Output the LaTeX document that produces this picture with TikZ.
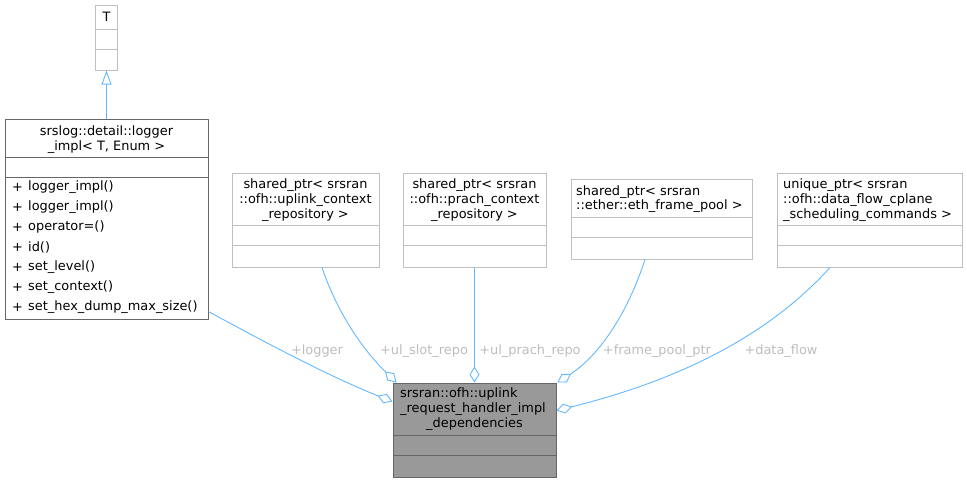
\documentclass[tikz,border=0pt]{standalone}
\usepackage{fontspec}
\setmainfont{DejaVu Sans}
\usetikzlibrary{arrows.meta,calc}
\definecolor{edgeblue}{HTML}{63B8FF}
\definecolor{lblgray}{HTML}{BDBDBD}
\definecolor{lightborder}{HTML}{BFBFBF}
\definecolor{darkborder}{HTML}{666666}
\definecolor{mainfill}{HTML}{999999}
\begin{document}
\begin{tikzpicture}[x=1pt,y=-1pt,
  font=\fontsize{12.9}{15}\selectfont,
  umlbox/.style={draw=lightborder, fill=white, line width=1pt, inner sep=0pt, rectangle},
  darkbox/.style={umlbox, draw=darkborder},
  txt/.style={inner sep=0pt, anchor=center, text=black},
  ltxt/.style={inner sep=0pt, anchor=west, text=black},
  assoc/.style={draw=edgeblue, line width=0.9pt, -{Diamond[open, length=16pt, width=10pt, line width=0.9pt]}},
  inherit/.style={draw=edgeblue, line width=0.9pt, -{Triangle[open, length=14pt, width=10pt, line width=0.9pt]}},
  elabel/.style={inner sep=0pt, text=lblgray, anchor=center}
]
\useasboundingbox (0,0) rectangle (967,483);

% template parameter T
\node[umlbox, minimum width=22pt, minimum height=65pt] (tbox) at (106.5,37.5) {};
\draw[lightborder, line width=1pt] (95.5,29) -- (117.5,29) (95.5,49) -- (117.5,49);
\node[txt] (tname) at (106.5,17) {T};

% logger implementation class
\node[darkbox, minimum width=203pt, minimum height=200pt] (logger) at (106.5,219) {};
\draw[darkborder, line width=1pt] (5,157) -- (208,157) (5,177) -- (208,177);
\node[txt] (lg1) at (106.5,132) {srslog::detail::logger};
\node[txt] (lg2) at (106.5,147) {\_impl< T, Enum >};
\foreach \i/\y/\m in {1/187/logger\_impl(), 2/207/logger\_impl(), 3/227/operator=(), 4/247/id(),
                      5/267/set\_level(), 6/287/set\_context(), 7/307/set\_hex\_dump\_max\_size()}{
  \node[ltxt] (lgp\i) at (12,\y) {+};
  \node[ltxt] (lgm\i) at (28,\y) {\m};
}

% uplink context repository pointer
\node[umlbox, minimum width=147pt, minimum height=94pt] (ulslot) at (305.5,220) {};
\draw[lightborder, line width=1pt] (232,225) -- (379,225) (232,245) -- (379,245);
\node[txt] (us1) at (305.5,185) {shared\_ptr< srsran};
\node[txt] (us2) at (305.5,200) {::ofh::uplink\_context};
\node[txt] (us3) at (305.5,215) {\_repository >};

% prach context repository pointer
\node[umlbox, minimum width=143pt, minimum height=94pt] (ulprach) at (474.5,220) {};
\draw[lightborder, line width=1pt] (403,225) -- (546,225) (403,245) -- (546,245);
\node[txt] (up1) at (474.5,185) {shared\_ptr< srsran};
\node[txt] (up2) at (474.5,200) {::ofh::prach\_context};
\node[txt] (up3) at (474.5,215) {\_repository >};

% ethernet frame pool pointer
\node[umlbox, minimum width=181pt, minimum height=80pt] (fpool) at (661.5,219) {};
\draw[lightborder, line width=1pt] (571,217) -- (752,217) (571,237) -- (752,237);
\node[ltxt] (fp1) at (576,192) {shared\_ptr< srsran};
\node[ltxt] (fp2) at (576,206) {::ether::eth\_frame\_pool >};

% data flow cplane scheduling commands pointer
\node[umlbox, minimum width=185pt, minimum height=94pt] (dflow) at (869.5,220) {};
\draw[lightborder, line width=1pt] (777,225) -- (962,225) (777,245) -- (962,245);
\node[ltxt] (df1) at (783,185) {unique\_ptr< srsran};
\node[ltxt] (df2) at (783,200) {::ofh::data\_flow\_cplane};
\node[ltxt] (df3) at (783,215) {\_scheduling\_commands >};

% dependencies structure
\node[darkbox, fill=mainfill, minimum width=163pt, minimum height=94pt] (deps) at (474.5,430) {};
\draw[darkborder, line width=1pt] (393,435) -- (556,435) (393,455) -- (556,455);
\node[ltxt] (dp1) at (400,394) {srsran::ofh::uplink};
\node[ltxt] (dp2) at (400,409) {\_request\_handler\_impl};
\node[txt] (dp3) at (474.5,424) {\_dependencies};

% inheritance
\draw[inherit] (logger.north) -- (tbox.south);

% member associations
\draw[assoc] ($(logger.north east)+(0,193)$) .. controls (255,337) and (330,377) .. ($(deps.north west)+(0,19)$);
\draw[assoc] ($(ulslot.south)+(16.5,0)$) .. controls (338,315) and (365,352) .. ($(deps.north west)+(4,0)$);
\draw[assoc] (ulprach.south) -- (deps.north);
\draw[assoc] ($(fpool.south)+(-16.5,0)$) .. controls (628,312) and (600,355) .. ($(deps.north east)+(1,0)$);
\draw[assoc] ($(dflow.south)+(-39.5,0)$) .. controls (760,345) and (660,385) .. ($(deps.north east)+(0,28)$);

% association labels
\node[elabel] (l1) at (317,351) {+logger};
\node[elabel] (l2) at (424,351) {+ul\_slot\_repo};
\node[elabel] (l3) at (530,351) {+ul\_prach\_repo};
\node[elabel] (l4) at (657,351) {+frame\_pool\_ptr};
\node[elabel] (l5) at (781,351) {+data\_flow};
\end{tikzpicture}
\end{document}
